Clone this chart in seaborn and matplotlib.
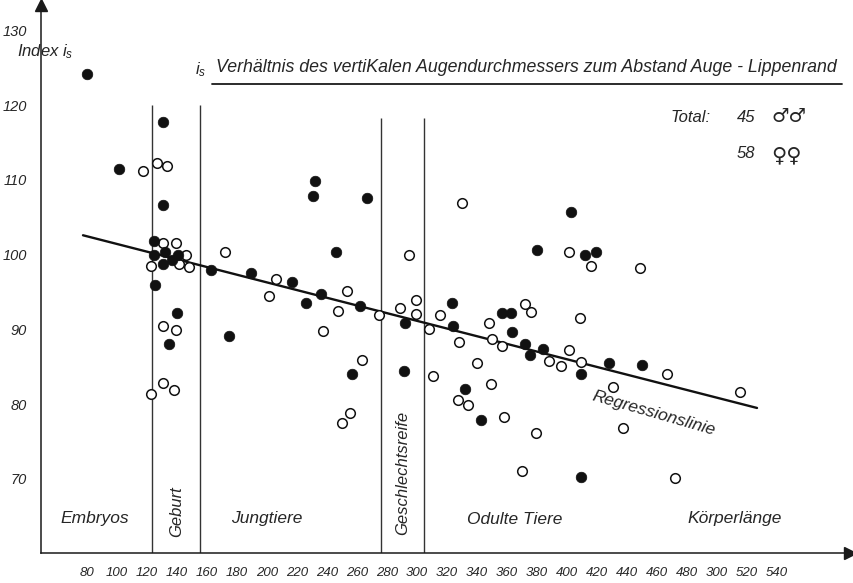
import matplotlib
matplotlib.use("Agg")
import matplotlib.pyplot as plt
from matplotlib.lines import Line2D
import seaborn as sns

# Körperlänge and index i_s, males (filled circles)
male_len = [80.2, 101.3, 130.5, 130.9, 124.7, 124.7, 132.0, 140.9, 130.9, 136.5,
            125.1, 140.0, 134.5, 162.8, 174.5, 189.1, 216.9, 225.8, 230.5, 232.2,
            236.0, 246.0, 256.9, 262.2, 266.5, 291.8, 291.3, 323.1, 323.8, 332.0,
            343.0, 356.5, 362.7, 363.5, 371.7, 375.3, 379.8, 384.2, 402.9, 409.5,
            409.5, 411.8, 419.3, 428.2, 450.1]
male_idx = [124.2, 111.4, 117.8, 106.7, 101.8, 100.0, 100.3, 99.9, 98.8, 99.3,
            95.9, 92.2, 88.0, 97.9, 89.1, 97.5, 96.4, 93.6, 107.8, 109.9,
            94.7, 100.4, 84.1, 93.1, 107.6, 90.8, 84.5, 93.6, 90.4, 82.1,
            77.9, 92.2, 92.2, 89.7, 88.1, 86.6, 100.6, 87.4, 105.7, 84.0,
            70.3, 100.0, 100.3, 85.5, 85.3]

# females (open circles)
female_len = [117.1, 126.5, 133.3, 130.5, 139.3, 146.0, 122.5, 141.1, 147.9, 130.5,
              139.2, 122.5, 130.7, 138.0, 172.0, 201.0, 206.1, 237.5, 247.5, 250.0,
              253.1, 255.3, 263.1, 274.7, 288.7, 294.9, 299.3, 299.3, 308.2, 310.9,
              315.5, 327.8, 327.5, 330.2, 333.8, 339.8, 348.2, 349.3, 350.2, 356.7,
              358.1, 370.2, 372.2, 375.9, 379.2, 388.0, 396.3, 401.3, 401.5, 408.9,
              409.5, 416.3, 430.9, 437.3, 448.7, 466.9, 471.7, 515.3]
female_idx = [111.2, 112.2, 111.9, 101.6, 101.6, 99.9, 98.5, 98.8, 98.4, 90.5,
              89.9, 81.4, 82.8, 81.9, 100.4, 94.5, 96.7, 89.8, 92.5, 77.5,
              95.2, 78.8, 85.9, 92.0, 92.9, 99.9, 93.9, 92.1, 90.1, 83.8,
              92.0, 88.3, 80.6, 106.9, 79.9, 85.5, 90.8, 82.7, 88.7, 87.8,
              78.3, 71.1, 93.4, 92.4, 76.1, 85.8, 85.1, 100.3, 87.2, 91.5,
              85.6, 98.5, 82.3, 76.8, 98.2, 84.0, 70.1, 81.6]

# Regressionslinie endpoints
reg_len = [77.3, 526.7]
reg_idx = [102.6, 79.5]

# boundaries of the life stages (Geburt, Geschlechtsreife)
stage_bounds = [123.3, 155.3, 276.0, 304.7]
stage_tops = [120.0, 120.0, 118.3, 118.3]

x_ticks = list(range(60, 541, 20))
x_tick_labels = ["", "80", "100", "120", "140", "160", "180", "200", "220", "240",
                 "260", "280", "300", "320", "340", "360", "380", "400", "420",
                 "440", "460", "480", "300", "520", "540"]
y_ticks = [70, 80, 90, 100, 110, 120, 130]
y_tick_labels = ["70", "80", "90", "100", "110", "120", "130"]

sns.set_style("white")
HAND = ["Liberation Sans Narrow", "Liberation Sans", "DejaVu Sans"]
plt.rcParams["font.family"] = HAND
plt.rcParams["font.style"] = "italic"
plt.rcParams["mathtext.fontset"] = "custom"
plt.rcParams["mathtext.it"] = "Liberation Sans:italic"
plt.rcParams["mathtext.rm"] = "Liberation Sans"

W, H = 854, 583
fig = plt.figure(figsize=(W / 100, H / 100), dpi=100)
fig.patch.set_facecolor("white")


def fpos(x, y):
    return x / W, 1 - y / H


ax = fig.add_axes([41 / W, (H - 553) / H, (850 - 41) / W, (553 - 5) / H])
ax.set_xlim(49.3, 588.7)
ax.set_ylim(60.1, 133.4)
ax.set_facecolor("white")

for s in ("top", "right"):
    ax.spines[s].set_visible(False)
for s in ("left", "bottom"):
    ax.spines[s].set_linewidth(1.1)
    ax.spines[s].set_color("#1a1a1a")

ax.plot(1, 0, marker=">", color="#1a1a1a", ms=8, transform=ax.transAxes, clip_on=False)
ax.plot(0, 1, marker="^", color="#1a1a1a", ms=8, transform=ax.transAxes, clip_on=False)

ax.set_xticks(x_ticks)
ax.set_xticklabels(x_tick_labels, fontsize=9.5, style="italic")
ax.set_yticks(y_ticks)
ax.set_yticklabels(y_tick_labels, fontsize=10.5, style="italic")
ax.tick_params(axis="both", direction="inout", length=8, width=1.0, color="#1a1a1a")
ax.tick_params(axis="x", pad=6)
ax.tick_params(axis="y", pad=6)
ax.set_xlabel("")
ax.set_ylabel("")

# stage boundaries
ax.vlines(stage_bounds, ymin=60.1, ymax=stage_tops, color="#333333", lw=1.0)

# regression line
sns.lineplot(x=reg_len, y=reg_idx, color="#111111", lw=1.7, ax=ax, zorder=2)

# data points
sns.scatterplot(x=female_len, y=female_idx, color="white", edgecolor="#111111",
                linewidth=1.1, s=48, ax=ax, zorder=3)
sns.scatterplot(x=male_len, y=male_idx, color="#111111", edgecolor="#111111",
                linewidth=0.5, s=58, ax=ax, zorder=4)

# texts
fig.text(*fpos(17, 52), r"Index $i_s$", fontsize=12, ha="left", va="center")
fig.text(*fpos(195, 70), r"$i_s$", fontsize=12, ha="left", va="center")
fig.text(*fpos(216, 68), "Verhältnis des vertiKalen Augendurchmessers zum Abstand Auge - Lippenrand",
         fontsize=12.8, ha="left", va="center")
fig.add_artist(Line2D([212 / W, 842 / W], [1 - 84 / H, 1 - 84 / H],
                      transform=fig.transFigure, color="#1a1a1a", lw=1.3))

fig.text(*fpos(671, 117), "Total:", fontsize=12, ha="left", va="center")
fig.text(*fpos(737, 117), "45", fontsize=12, ha="left", va="center")
fig.text(*fpos(771, 116), "♂♂", fontsize=14, ha="left", va="center",
         family=["DejaVu Sans"], style="normal", weight="bold")
fig.text(*fpos(737, 153), "58", fontsize=12, ha="left", va="center")
fig.text(*fpos(771, 155), "♀♀", fontsize=15, ha="left", va="center",
         family=["DejaVu Sans"], style="normal")

fig.text(*fpos(95, 519), "Embryos", fontsize=12.5, ha="center", va="center")
fig.text(*fpos(177, 512), "Geburt", fontsize=12, ha="center", va="center", rotation=90)
fig.text(*fpos(267, 519), "Jungtiere", fontsize=12.5, ha="center", va="center")
fig.text(*fpos(403, 473), "Geschlechtsreife", fontsize=12, ha="center", va="center", rotation=90)
fig.text(*fpos(515, 519), "Odulte Tiere", fontsize=12.5, ha="center", va="center")
fig.text(*fpos(735, 519), "Körperlänge", fontsize=12.5, ha="center", va="center")
fig.text(*fpos(654, 413), "Regressionslinie", fontsize=12.5, ha="center", va="center",
         rotation=-16)

fig.savefig("out.png", dpi=100, facecolor="white")
